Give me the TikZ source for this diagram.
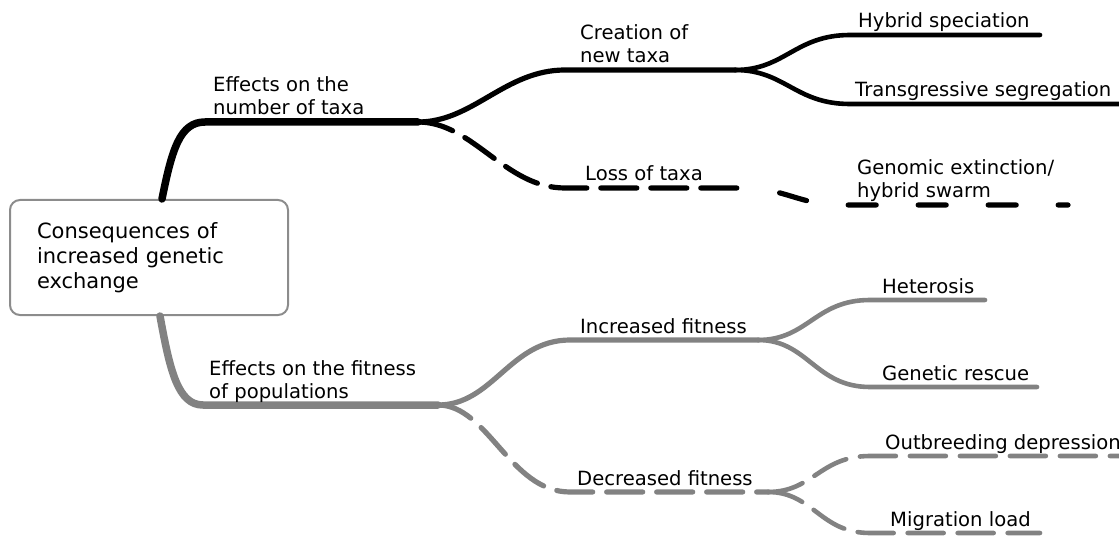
\documentclass[tikz,border=0pt]{standalone}
\usepackage{fontspec}
\setmainfont{DejaVu Sans}
\definecolor{branchgray}{RGB}{130,130,130}
\definecolor{boxgray}{RGB}{140,140,140}

\begin{document}
\begin{tikzpicture}[x=1pt, y=-1pt,
    lvlone/.style={line width=7.5pt, line cap=round},
    lvltwo/.style={line width=5.2pt, line cap=round},
    lvlthree/.style={line width=4.6pt, line cap=round},
    broken/.style={dash pattern=on 36pt off 14pt},
    sparse/.style={dash pattern=on 28pt off 42pt, dash phase=28pt},
    lbl/.style={anchor=base west, inner sep=0pt, align=left, font=\fontsize{19.6}{23}\selectfont}]

\useasboundingbox (0,0) rectangle (1119,540);

\node [draw=boxgray, line width=2pt, rounded corners=10pt, minimum width=278pt, minimum height=115pt,
  text width=224pt, inner xsep=27pt, align=left, font=\fontsize{21}{25}\selectfont]
  (root) at (149,257.5) {Consequences of\\increased genetic\\exchange};

% branch points and ends
\coordinate (topfoot) at ([xshift=13pt]root.north);
\coordinate (botfoot) at ([xshift=11pt]root.south);
\coordinate (numtaxa) at (418,122);
\coordinate (newtaxa) at (735,70);
\coordinate (losstaxa) at (738,188);
\coordinate (fitpop) at (438,405);
\coordinate (incfit) at (758,340);
\coordinate (decfit) at (768,492);
\coordinate (hybspec) at (1040,35);
\coordinate (transseg) at (1124,104);
\coordinate (genext) at (1068,205);
\coordinate (heter) at (985,300);
\coordinate (rescue) at (1037,387);
\coordinate (outbr) at (1124,456);
\coordinate (migr) at (1040,533);

% number of taxa
\draw [lvlone] (topfoot) .. controls +(10,-50) and +(-25,0) .. (205,122) -- (numtaxa);
\draw [lvltwo] (numtaxa) .. controls +(55,0) and +(-60,0) .. (565,70) -- (newtaxa);
\draw [lvltwo, broken] (numtaxa) .. controls +(55,0) and +(-60,0) .. (565,188) -- (losstaxa);
\draw [lvlthree] (newtaxa) .. controls +(50,0) and +(-55,0) .. (850,35) -- (hybspec);
\draw [lvlthree] (newtaxa) .. controls +(50,0) and +(-55,0) .. (850,104) -- (transseg);
\draw [lvltwo, sparse] (losstaxa) .. controls +(52,0) and +(-50,0) .. (845,205) -- (genext);

% fitness of populations
\draw [lvlone, branchgray] (botfoot) .. controls +(10,55) and +(-25,0) .. (203,405) -- (fitpop);
\draw [lvltwo, branchgray] (fitpop) .. controls +(55,0) and +(-60,0) .. (570,340) -- (incfit);
\draw [lvltwo, branchgray, broken] (fitpop) .. controls +(50,0) and +(-60,0) .. (570,492) -- (decfit);
\draw [lvlthree, branchgray] (incfit) .. controls +(50,0) and +(-55,0) .. (870,300) -- (heter);
\draw [lvlthree, branchgray] (incfit) .. controls +(50,0) and +(-55,0) .. (870,387) -- (rescue);
\draw [lvlthree, branchgray, broken] (decfit) .. controls +(45,0) and +(-50,0) .. (870,456) -- (outbr);
\draw [lvlthree, branchgray, broken] (decfit) .. controls +(45,0) and +(-50,0) .. (870,533) -- (migr);

% labels
\node [lbl] (lnum) at (213,115) {Effects on the\\number of taxa};
\node [lbl] (lnew) at (580,63) {Creation of\\new taxa};
\node [lbl] (lloss) at (585,181) {Loss of taxa};
\node [lbl] (lhyb) at (858,28) {Hybrid speciation};
\node [lbl] (ltrans) at (855,97) {Transgressive segregation};
\node [lbl] (lgen) at (857,198) {Genomic extinction/\\hybrid swarm};
\node [lbl] (lfit) at (209,398) {Effects on the fitness\\of populations};
\node [lbl] (linc) at (580,333) {Increased fitness};
\node [lbl] (ldec) at (577,485) {Decreased fitness};
\node [lbl] (lhet) at (882,293) {Heterosis};
\node [lbl] (lres) at (882,380) {Genetic rescue};
\node [lbl] (lout) at (885,449) {Outbreeding depression};
\node [lbl] (lmig) at (890,526) {Migration load};

\end{tikzpicture}
\end{document}
